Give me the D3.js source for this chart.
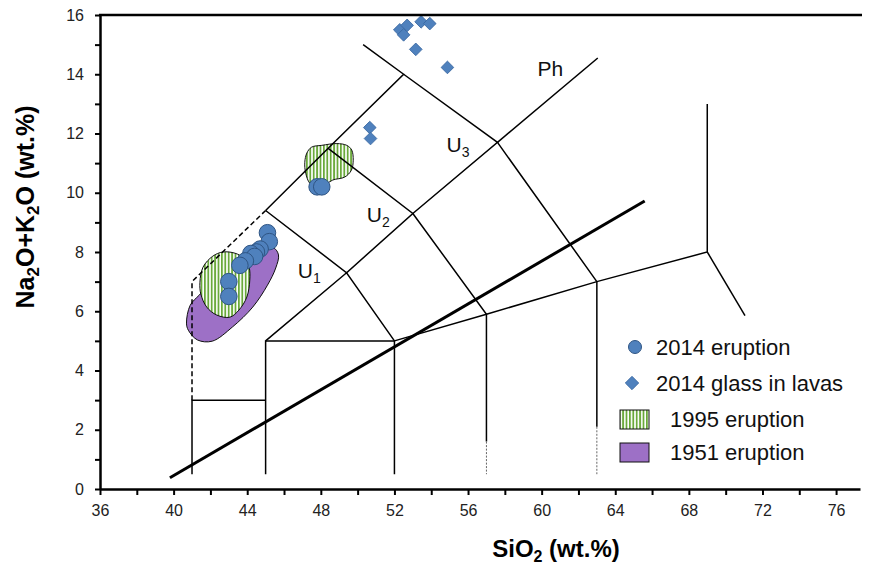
<!DOCTYPE html>
<html>
<head>
<meta charset="utf-8">
<script src="https://cdn.jsdelivr.net/npm/d3@7"></script>
<style>
  body { margin: 0; background: #fff; }
  svg { font-family: Arial, "Liberation Sans", sans-serif; }
</style>
</head>
<body>
<script>

// ---- data (SiO2, Na2O+K2O) ----

var eruption2014 = [
  [45.1, 8.65], [45.2, 8.35], [44.7, 8.1], [44.5, 8.0], [44.2, 7.95],
  [44.4, 7.85], [43.9, 7.7], [43.6, 7.55], [43.0, 7.0], [43.0, 6.5],
  [47.8, 10.2], [48.05, 10.2]
]

var glass2014 = [
  [52.29, 15.5], [52.69, 15.65], [52.5, 15.33], [53.45, 15.77], [53.92, 15.71],
  [53.16, 14.84], [54.88, 14.23], [50.66, 12.2], [50.7, 11.83]
]

var field1951 = [
  [40.7, 5.6], [40.9, 6.2], [41.4, 6.55], [42.2, 7.05], [43.6, 7.73], [44.8, 8.06],
  [45.45, 8.13], [45.7, 7.9], [45.55, 7.46], [45.1, 6.88], [44.3, 6.14],
  [43.2, 5.47], [42.1, 4.99], [41.3, 5.03], [40.8, 5.36]
]

var field1995low = [
  [41.43, 6.98], [41.6, 7.49], [42.13, 7.86], [42.68, 8.0], [43.33, 7.96], [43.8, 7.8],
  [44.1, 7.49], [44.14, 7.05], [43.98, 6.48], [43.55, 6.04], [43.06, 5.8],
  [42.35, 5.87], [41.8, 6.14], [41.48, 6.58]
]

var field1995high = [
  [47.13, 11.03], [47.24, 11.34], [47.5, 11.54], [48.05, 11.6], [48.87, 11.66],
  [49.41, 11.6], [49.68, 11.44], [49.76, 11.1], [49.66, 10.76], [49.3, 10.53],
  [48.65, 10.43], [48.2, 10.26], [47.8, 10.16], [47.4, 10.32], [47.18, 10.66]
]

// TAS field boundaries
var tasSolid = [
  [[41, 0.5], [41, 3], [45, 3]],
  [[45, 0.5], [45, 5], [52, 5], [52, 0.5]],
  [[45, 5], [49.4, 7.3], [52, 5]],
  [[45, 9.4], [48.4, 11.5], [52.5, 14], [50.3, 15.0]],
  [[45, 9.4], [49.4, 7.3], [53, 9.3], [48.4, 11.5]],
  [[53, 9.3], [57.6, 11.7], [52.5, 14]],
  [[53, 9.3], [57, 5.9], [57, 1.6]],
  [[57.6, 11.7], [63, 7], [63, 2.1]],
  [[57.6, 11.7], [63.05, 14.55]],
  [[52, 5], [57, 5.9], [63, 7], [69, 8], [69, 13]],
  [[69, 8], [71.05, 5.85]]
]
var tasDashed = [[[41, 3], [41, 7], [45, 9.4]]]
var tasDotted = [[[57, 1.6], [57, 0.5]], [[63, 2.1], [63, 0.5]]]
var alkalineLine = [[39.8, 0.38], [65.6, 9.72]]

var fieldNames = ['U', 'U', 'U', 'Ph']
var fieldSubs = ['1', '2', '3', '']
var fieldAt = [[46.75, 7.12], [50.5, 9.02], [54.83, 11.37], [59.78, 13.93]]

var xTicks = d3.range(36, 77, 2)
var yTicks = d3.range(0, 17, 1)
var legendNames = ['2014 eruption', '2014 glass in lavas', '1995 eruption', '1951 eruption']

// ---- chart ----

var W = 869, H = 570

var x = d3.scaleLinear().domain([36, 77.3]).range([100, 860])
var y = d3.scaleLinear().domain([0, 16]).range([489, 15])

var svg = d3.select('body').append('svg')
  .attr('width', W)
  .attr('height', H)

var defs = svg.append('defs')
var pat = defs.append('pattern')
  .attr('id', 'vstripe')
  .attr('patternUnits', 'userSpaceOnUse')
  .attr('width', 3.4).attr('height', 10)
pat.append('rect').attr('width', 3.4).attr('height', 10).attr('fill', '#fff')
pat.append('rect').attr('width', 1.8).attr('height', 10).attr('fill', '#6aa93b')

var line = d3.line().x(function(d) { return x(d[0]) }).y(function(d) { return y(d[1]) })
var blob = d3.line().x(function(d) { return x(d[0]) }).y(function(d) { return y(d[1]) })
  .curve(d3.curveCatmullRomClosed.alpha(0.5))

// fields
svg.append('path').attr('d', blob(field1951))
  .attr('fill', '#9d70c6').attr('stroke', '#111').attr('stroke-width', 1)
svg.append('path').attr('d', blob(field1995low))
  .attr('fill', 'url(#vstripe)').attr('stroke', '#111').attr('stroke-width', 1)
svg.append('path').attr('d', blob(field1995high))
  .attr('fill', 'url(#vstripe)').attr('stroke', '#111').attr('stroke-width', 1)

// TAS lines
svg.selectAll('.tas').data(tasSolid).enter().append('path')
  .attr('class', 'tas')
  .attr('d', line)
  .attr('fill', 'none').attr('stroke', '#000').attr('stroke-width', 1.5)
svg.selectAll('.tasd').data(tasDashed).enter().append('path')
  .attr('class', 'tasd')
  .attr('d', line)
  .attr('fill', 'none').attr('stroke', '#000').attr('stroke-width', 1.5)
  .attr('stroke-dasharray', '5,3')
svg.selectAll('.tasdot').data(tasDotted).enter().append('path')
  .attr('class', 'tasdot')
  .attr('d', line)
  .attr('fill', 'none').attr('stroke', '#666').attr('stroke-width', 1)
  .attr('stroke-dasharray', '2,1.5')
svg.append('path').attr('d', line(alkalineLine))
  .attr('fill', 'none').attr('stroke', '#000').attr('stroke-width', 3)

// field labels
var lbl = svg.selectAll('.flabel').data(fieldNames).enter().append('text')
  .attr('class', 'flabel')
  .attr('x', function(d, i) { return x(fieldAt[i][0]) })
  .attr('y', function(d, i) { return y(fieldAt[i][1]) })
  .attr('font-size', 21)
  .attr('fill', '#111')
lbl.append('tspan').text(function(d) { return d })
lbl.append('tspan').attr('font-size', 14).attr('dy', 5)
  .text(function(d, i) { return fieldSubs[i] })

// points
var diamond = d3.symbol().type(d3.symbolSquare).size(80)
svg.selectAll('.glass').data(glass2014).enter().append('path')
  .attr('class', 'glass')
  .attr('d', diamond)
  .attr('transform', function(d) { return 'translate(' + x(d[0]) + ',' + y(d[1]) + ') rotate(45)' })
  .attr('fill', '#4f81bd').attr('stroke', '#3a68a0').attr('stroke-width', 0.8)

svg.selectAll('.erup').data(eruption2014).enter().append('circle')
  .attr('class', 'erup')
  .attr('cx', function(d) { return x(d[0]) })
  .attr('cy', function(d) { return y(d[1]) })
  .attr('r', 8.3)
  .attr('fill', '#4f81bd').attr('stroke', '#2f5584').attr('stroke-width', 1)

// axes
var yAxis = d3.axisLeft(y).tickValues(yTicks).tickSize(5).tickSizeOuter(0)
  .tickFormat(function(d) { return d % 2 === 0 ? d : '' })
var gy = svg.append('g').attr('transform', 'translate(100,0)').call(yAxis)
gy.select('.domain').attr('stroke-width', 2.5)
gy.selectAll('.tick line').attr('stroke-width', 2)
gy.selectAll('.tick text').attr('font-size', 16).attr('fill', '#222').attr('x', -16)
  .attr('font-family', 'Arial, "Liberation Sans", sans-serif')

var xAxis = d3.axisBottom(x).tickValues(xTicks).tickSize(6).tickSizeOuter(0)
  .tickFormat(function(d) { return d % 4 === 0 ? d : '' })
var gx = svg.append('g').attr('transform', 'translate(0,489)').call(xAxis)
gx.select('.domain').attr('stroke-width', 2.5)
gx.selectAll('.tick line').attr('stroke-width', 2)
gx.selectAll('.tick text').attr('font-size', 16).attr('fill', '#222').attr('y', 16)
  .attr('font-family', 'Arial, "Liberation Sans", sans-serif')

// top frame
svg.append('line').attr('x1', 99).attr('x2', 862).attr('y1', 15).attr('y2', 15)
  .attr('stroke', '#000').attr('stroke-width', 2.5)

// axis titles
var xt = svg.append('text').attr('x', 556).attr('y', 557)
  .attr('text-anchor', 'middle').attr('font-size', 24).attr('font-weight', 'bold')
xt.append('tspan').text('SiO')
xt.append('tspan').attr('font-size', 16).attr('dy', 5).text('2')
xt.append('tspan').attr('dy', -5).text(' (wt.%)')

var yt = svg.append('text').attr('transform', 'translate(34,207) rotate(-90)')
  .attr('text-anchor', 'middle').attr('font-size', 25).attr('font-weight', 'bold')
yt.append('tspan').text('Na')
yt.append('tspan').attr('font-size', 17).attr('dy', 5).text('2')
yt.append('tspan').attr('dy', -5).text('O+K')
yt.append('tspan').attr('font-size', 17).attr('dy', 5).text('2')
yt.append('tspan').attr('dy', -5).text('O (wt.%)')

// legend
var lg = svg.append('g')
lg.append('circle').attr('cx', 635).attr('cy', 347).attr('r', 6.5)
  .attr('fill', '#4f81bd').attr('stroke', '#2f5584').attr('stroke-width', 1)
lg.append('path').attr('d', d3.symbol().type(d3.symbolSquare).size(90))
  .attr('transform', 'translate(632,383) rotate(45)')
  .attr('fill', '#4f81bd').attr('stroke', '#3a68a0').attr('stroke-width', 0.8)
lg.append('rect').attr('x', 620).attr('y', 410).attr('width', 29).attr('height', 19)
  .attr('fill', 'url(#vstripe)').attr('stroke', '#111')
lg.append('rect').attr('x', 620).attr('y', 443).attr('width', 29).attr('height', 19)
  .attr('fill', '#9d70c6').attr('stroke', '#111')
var legX = [656, 656, 670, 670], legY = [355, 391, 427, 460]
lg.selectAll('text').data(legendNames).enter().append('text')
  .attr('x', function(d, i) { return legX[i] })
  .attr('y', function(d, i) { return legY[i] })
  .attr('font-size', 22).attr('fill', '#111')
  .text(function(d) { return d })

</script>
</body>
</html>
